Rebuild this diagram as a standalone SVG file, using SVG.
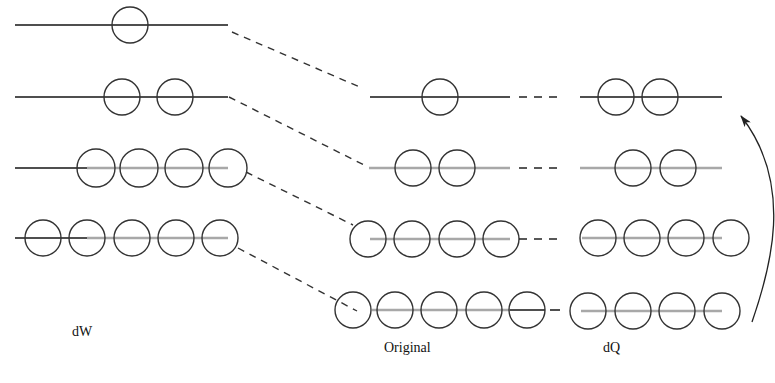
<svg xmlns="http://www.w3.org/2000/svg" width="775" height="383" viewBox="0 0 775 383">
  <style>
    .bead { fill: none; stroke: #333; stroke-width: 1.4; }
    .wire { stroke: #151515; stroke-width: 1.5; fill: none; }
    .wire-g { stroke: #a8a8a8; stroke-width: 2.6; fill: none; }
    .link { stroke: #333; stroke-width: 1.4; stroke-dasharray: 7 6; fill: none; }
    .tail { stroke: #222; stroke-width: 1.6; stroke-dasharray: 8 7; fill: none; }
    .label { font-family: "Liberation Serif", "Times New Roman", serif; font-size: 14px; fill: #111; }
  </style>
  <defs>
    <marker id="head" viewBox="0 0 12 8" refX="11" refY="4" markerWidth="12" markerHeight="8" markerUnits="userSpaceOnUse" orient="auto">
      <path d="M0,0 L12,4 L0,8 L3,4 Z" fill="#222"/>
    </marker>
  </defs>

  <!-- dW column -->
  <g id="dW-1">
    <line class="wire" x1="15" y1="25" x2="228" y2="25"/>
    <circle class="bead" cx="130" cy="25" r="18"/>
  </g>
  <g id="dW-2">
    <line class="wire" x1="15" y1="97" x2="228" y2="97"/>
    <circle class="bead" cx="122" cy="97" r="18"/>
    <circle class="bead" cx="175" cy="97" r="18"/>
  </g>
  <g id="dW-3">
    <line class="wire-g" x1="87" y1="168" x2="228" y2="168"/>
    <line class="wire" x1="15" y1="168" x2="87" y2="168"/>
    <circle class="bead" cx="96" cy="168" r="19"/>
    <circle class="bead" cx="139" cy="168" r="19"/>
    <circle class="bead" cx="184" cy="168" r="19"/>
    <circle class="bead" cx="228" cy="168" r="19"/>
  </g>
  <g id="dW-4">
    <line class="wire-g" x1="87" y1="238" x2="228" y2="238"/>
    <line class="wire" x1="15" y1="238" x2="87" y2="238"/>
    <circle class="bead" cx="43" cy="238" r="18"/>
    <circle class="bead" cx="87" cy="238" r="18"/>
    <circle class="bead" cx="132" cy="238" r="18"/>
    <circle class="bead" cx="176" cy="238" r="18"/>
    <circle class="bead" cx="220" cy="238" r="18"/>
  </g>

  <!-- Original column -->
  <g id="orig-1">
    <line class="wire" x1="370" y1="97" x2="510" y2="97"/>
    <circle class="bead" cx="440" cy="97" r="18"/>
  </g>
  <g id="orig-2">
    <line class="wire-g" x1="369" y1="168" x2="510" y2="168"/>
    <circle class="bead" cx="413" cy="168" r="18"/>
    <circle class="bead" cx="457" cy="168" r="18"/>
  </g>
  <g id="orig-3">
    <line class="wire-g" x1="370" y1="239" x2="510" y2="239"/>
    <circle class="bead" cx="368" cy="239" r="18"/>
    <circle class="bead" cx="412" cy="239" r="18"/>
    <circle class="bead" cx="457" cy="239" r="18"/>
    <circle class="bead" cx="501" cy="239" r="18"/>
  </g>
  <g id="orig-4">
    <line class="wire-g" x1="372" y1="310" x2="510" y2="310"/>
    <line class="wire" x1="510" y1="310" x2="545" y2="310"/>
    <circle class="bead" cx="353" cy="310" r="18"/>
    <circle class="bead" cx="395" cy="310" r="18"/>
    <circle class="bead" cx="439" cy="310" r="18"/>
    <circle class="bead" cx="484" cy="310" r="18"/>
    <circle class="bead" cx="527" cy="310" r="18"/>
  </g>

  <!-- dQ column -->
  <g id="dQ-1">
    <line class="wire" x1="580" y1="97" x2="722" y2="97"/>
    <circle class="bead" cx="616" cy="97" r="18"/>
    <circle class="bead" cx="660" cy="97" r="18"/>
  </g>
  <g id="dQ-2">
    <line class="wire-g" x1="580" y1="168" x2="722" y2="168"/>
    <circle class="bead" cx="633" cy="168" r="18"/>
    <circle class="bead" cx="678" cy="168" r="18"/>
  </g>
  <g id="dQ-3">
    <line class="wire-g" x1="582" y1="238" x2="722" y2="238"/>
    <circle class="bead" cx="598" cy="238" r="18"/>
    <circle class="bead" cx="642" cy="238" r="18"/>
    <circle class="bead" cx="686" cy="238" r="18"/>
    <circle class="bead" cx="731" cy="238" r="18"/>
  </g>
  <g id="dQ-4">
    <line class="wire-g" x1="581" y1="311" x2="722" y2="311"/>
    <circle class="bead" cx="588" cy="311" r="18"/>
    <circle class="bead" cx="633" cy="311" r="18"/>
    <circle class="bead" cx="677" cy="311" r="18"/>
    <circle class="bead" cx="722" cy="311" r="18"/>
  </g>

  <!-- connectors -->
  <g id="connectors">
    <line class="link" x1="232" y1="32" x2="362" y2="88"/>
    <line class="link" x1="229" y1="97" x2="366" y2="166"/>
    <line class="link" x1="246" y1="172" x2="353" y2="225"/>
    <line class="link" x1="238" y1="248" x2="357" y2="311"/>
    <line class="tail" x1="519" y1="97" x2="560" y2="97"/>
    <line class="tail" x1="519" y1="168" x2="560" y2="168"/>
    <line class="tail" x1="519" y1="239" x2="560" y2="239"/>
    <line class="tail" x1="550" y1="310" x2="560" y2="310" style="stroke-dasharray:none"/>
    <path d="M752,322 C770,270 795,185 741,116" fill="none" stroke="#222" stroke-width="1.3" marker-end="url(#head)"/>
  </g>

  <!-- column labels -->
  <text class="label" x="72" y="336">dW</text>
  <text class="label" x="384" y="352">Original</text>
  <text class="label" x="603" y="352">dQ</text>
</svg>
